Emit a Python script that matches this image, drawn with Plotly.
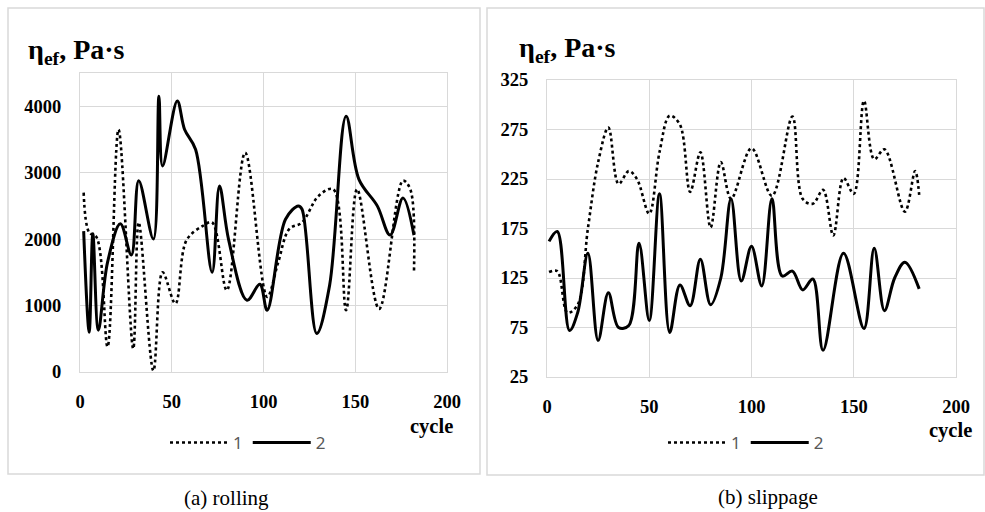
import plotly.graph_objects as go

W, H = 985, 512

# ---- data: (a) rolling ----
roll_x1 = [2, 5, 9, 15, 21, 29, 32, 40, 45, 52, 58, 67, 72, 80, 90, 102, 108, 114, 121, 130, 138, 145, 151, 163, 176, 180, 182]
roll_y1 = [2700, 2100, 2030, 380, 3650, 350, 2250, 20, 1500, 1030, 1980, 2200, 2250, 1230, 3300, 1130, 1650, 2150, 2250, 2650, 2750, 930, 2750, 950, 2880, 2750, 1500]
roll_x2 = [2, 5, 7, 10, 15, 22, 28, 32, 40, 43, 45, 53, 57, 63, 72, 76, 81, 91, 98, 102, 112, 119, 121, 129, 136, 145, 152, 162, 169, 176, 182]
roll_y2 = [2120, 600, 2080, 630, 1650, 2230, 1760, 2880, 2000, 4150, 3100, 4080, 3650, 3350, 1500, 2800, 1990, 1080, 1320, 930, 2300, 2500, 2450, 580, 1300, 3850, 2900, 2500, 2060, 2620, 2060]

# ---- data: (b) slippage ----
slip_x1 = [1, 5, 10, 15, 20, 25, 30, 35, 40, 44, 50, 55, 60, 65, 70, 75, 80, 85, 90, 100, 110, 120, 125, 130, 135, 140, 145, 150, 155, 160, 165, 175, 180, 182]
slip_y1 = [131, 132, 90, 98, 175, 242, 277, 220, 233, 225, 190, 252, 289, 280, 212, 252, 176, 242, 205, 256, 208, 288, 205, 200, 214, 168, 226, 210, 304, 245, 255, 192, 233, 209]
slip_x2 = [1, 5, 11, 15, 20, 25, 30, 35, 40, 45, 50, 55, 60, 65, 70, 75, 80, 85, 90, 95, 100, 105, 110, 115, 120, 125, 130, 135, 145, 155, 160, 165, 170, 175, 182]
slip_y2 = [162, 172, 72, 90, 150, 62, 110, 75, 77, 160, 82, 210, 70, 118, 97, 144, 98, 125, 205, 122, 157, 117, 205, 127, 132, 113, 124, 52, 150, 74, 155, 92, 125, 141, 114]

series_names = ["1", "2"]
x_ticks = [0, 50, 100, 150, 200]
roll_y_ticks = [0, 1000, 2000, 3000, 4000]
slip_y_ticks = [25, 75, 125, 175, 225, 275, 325]


def px(x):
    return x / W


def py(y):
    return 1 - y / H


SERIF = "Times New Roman, Liberation Serif, serif"
GRID = "#d9d9d9"

fig = go.Figure()

dot_line = dict(color="black", width=2.6, dash="dot", shape="spline", smoothing=1.0)
solid_line = dict(color="black", width=3, shape="spline", smoothing=1.0)

fig.add_trace(go.Scatter(x=roll_x1, y=roll_y1, mode="lines", name=series_names[0], line=dot_line,
                         xaxis="x", yaxis="y", legend="legend"))
fig.add_trace(go.Scatter(x=roll_x2, y=roll_y2, mode="lines", name=series_names[1], line=solid_line,
                         xaxis="x", yaxis="y", legend="legend"))
fig.add_trace(go.Scatter(x=slip_x1, y=slip_y1, mode="lines", name=series_names[0], line=dot_line,
                         xaxis="x2", yaxis="y2", legend="legend2"))
fig.add_trace(go.Scatter(x=slip_x2, y=slip_y2, mode="lines", name=series_names[1], line=solid_line,
                         xaxis="x2", yaxis="y2", legend="legend2"))

tickfont = dict(family=SERIF, size=18.5, color="black", weight="bold")
common_x = dict(range=[0, 200], tickvals=x_ticks, showgrid=True, gridcolor=GRID, gridwidth=1,
                showline=True, linecolor=GRID, linewidth=1, mirror=True, zeroline=False,
                ticks="", tickfont=tickfont, ticklabelstandoff=13, fixedrange=True)
common_y = dict(showgrid=True, gridcolor=GRID, gridwidth=1, showline=True, linecolor=GRID,
                linewidth=1, mirror=True, zeroline=False, ticks="", tickfont=tickfont,
                ticklabelstandoff=14, fixedrange=True)

legend_font = dict(family="Noto Sans", size=17, color="#595959")

fig.update_layout(
    width=W, height=H,
    margin=dict(l=0, r=0, t=0, b=0, autoexpand=False),
    paper_bgcolor="white", plot_bgcolor="white",
    xaxis=dict(domain=[px(80), px(447)], anchor="y", **common_x),
    yaxis=dict(domain=[py(372), py(73)], anchor="x", range=[0, 4500], tickvals=roll_y_ticks, **common_y),
    xaxis2=dict(domain=[px(547), px(956)], anchor="y2", **common_x),
    yaxis2=dict(domain=[py(377), py(80)], anchor="x2", range=[25, 325], tickvals=slip_y_ticks, **common_y),
    legend=dict(orientation="h", x=px(248), xanchor="center", y=py(443), yanchor="middle",
                font=legend_font, itemwidth=58, bgcolor="rgba(0,0,0,0)"),
    legend2=dict(orientation="h", x=px(746), xanchor="center", y=py(443), yanchor="middle",
                 font=legend_font, itemwidth=58, bgcolor="rgba(0,0,0,0)"),
    showlegend=True,
)

# panel frames
fig.add_shape(type="rect", xref="paper", yref="paper", x0=px(8), x1=px(480), y0=py(474), y1=py(8),
              line=dict(color=GRID, width=1.5), layer="below")
fig.add_shape(type="rect", xref="paper", yref="paper", x0=px(487), x1=px(984), y0=py(475), y1=py(8),
              line=dict(color=GRID, width=1.5), layer="below")

title_font = dict(family=SERIF, size=28, color="black", weight="bold")
fig.add_annotation(text="η<sub>ef</sub>, Pa·s", xref="paper", yref="paper", x=px(26), y=py(51),
                   xanchor="left", yanchor="middle", showarrow=False, font=title_font)
fig.add_annotation(text="η<sub>ef</sub>, Pa·s", xref="paper", yref="paper", x=px(517), y=py(49),
                   xanchor="left", yanchor="middle", showarrow=False, font=title_font)

cyc_font = dict(family=SERIF, size=20.5, color="black", weight="bold")
fig.add_annotation(text="cycle", xref="paper", yref="paper", x=px(431), y=py(426),
                   xanchor="center", yanchor="middle", showarrow=False, font=cyc_font)
fig.add_annotation(text="cycle", xref="paper", yref="paper", x=px(950), y=py(430),
                   xanchor="center", yanchor="middle", showarrow=False, font=cyc_font)

cap_font = dict(family=SERIF, size=21, color="black")
fig.add_annotation(text="(a) rolling", xref="paper", yref="paper", x=px(226), y=py(498),
                   xanchor="center", yanchor="middle", showarrow=False, font=cap_font)
fig.add_annotation(text="(b) slippage", xref="paper", yref="paper", x=px(768), y=py(497),
                   xanchor="center", yanchor="middle", showarrow=False, font=cap_font)

fig.write_html("out.html", config={"displayModeBar": False},
               post_script="document.body.style.margin='0';")
